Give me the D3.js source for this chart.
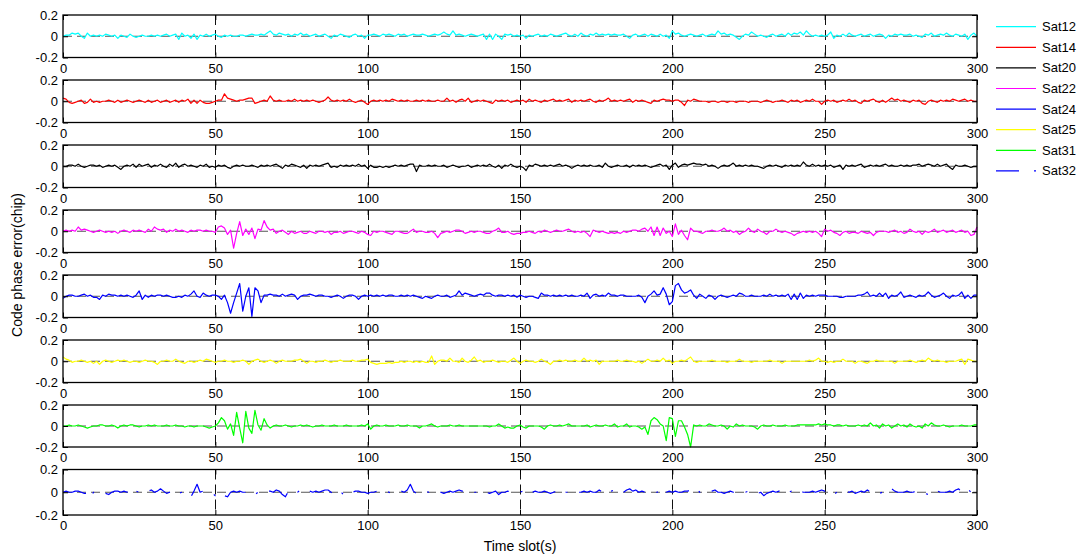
<!DOCTYPE html>
<html>
<head>
<meta charset="utf-8">
<script src="https://cdn.jsdelivr.net/npm/d3@7/dist/d3.min.js"></script>
<style>
  body { margin: 0; background: #fff; }
  svg { display: block; font-family: "Liberation Sans", Arial, Helvetica, sans-serif; }
</style>
</head>
<body>
<svg id="chart" width="1079" height="556"></svg>
<script>
// Code phase tracking error per satellite, one sample per time slot (0..300 s), in chips
const satNames = ["Sat12", "Sat14", "Sat20", "Sat22", "Sat24", "Sat25", "Sat31", "Sat32"];
const satColors = ["#00ffff", "#ff0000", "#000000", "#ff00ff", "#0000ff", "#ffff00", "#00ff00", "#0000ff"];

const sat12 = [
  0.00, 0.01, 0.01, 0.03, 0.02,  0.03, 0.00, -0.02, 0.03, 0.00,  0.01, 0.00, 0.01, 0.00, 0.02,  0.01, 0.00, 0.01, -0.02, 0.01,
  0.00, -0.01, 0.02, 0.00, -0.01,  0.00, 0.01, 0.00, 0.00, 0.01,  0.00, 0.01, 0.00, 0.01, 0.02,  0.00, 0.01, 0.02, -0.03, 0.03,
  0.00, 0.01, -0.02, 0.02, -0.03,  0.01, 0.00, 0.02, 0.00, 0.01,  0.02, 0.00, -0.01, 0.01, 0.00,  0.01, 0.00, 0.00, 0.01, 0.01,
  0.00, 0.01, 0.02, 0.01, 0.01,  0.02, 0.01, 0.03, 0.05, 0.02,  0.01, 0.03, 0.02, 0.01, 0.02,  0.00, 0.02, 0.01, 0.03, 0.01,
  0.02, 0.00, 0.01, 0.02, 0.00,  0.01, 0.02, 0.00, -0.02, 0.01,  0.00, 0.02, 0.01, 0.00, -0.01,  0.01, 0.02, 0.00, 0.01, -0.02,
  0.01, 0.01, 0.02, 0.01, 0.00,  0.02, 0.01, 0.02, 0.01, 0.00,  0.02, 0.01, 0.02, 0.00, 0.01,  0.02, 0.01, 0.01, 0.02, 0.01,
  0.00, 0.01, 0.02, 0.01, 0.02,  0.04, 0.02, 0.01, 0.05, 0.01,  0.02, 0.01, 0.00, 0.01, 0.02,  0.01, 0.00, 0.01, 0.02, -0.03,
  0.02, -0.03, 0.02, 0.00, -0.03,  0.02, 0.01, 0.02, 0.00, 0.01,  0.00, 0.01, -0.02, 0.01, 0.00,  0.01, 0.02, 0.00, 0.01, 0.00,
  0.02, 0.01, 0.00, 0.01, 0.02,  0.03, 0.01, 0.00, 0.02, 0.00,  0.03, 0.01, 0.00, 0.02, 0.01,  0.03, 0.01, 0.02, 0.01, 0.02,
  0.01, 0.02, 0.01, 0.01, 0.02,  0.00, -0.02, 0.01, 0.02, 0.00,  0.01, 0.02, 0.00, 0.02, 0.01,  0.00, 0.02, 0.00, 0.01, -0.02,
  0.05, 0.02, 0.03, 0.01, 0.00,  0.01, 0.02, 0.01, 0.00, 0.01,  0.02, 0.00, 0.01, 0.02, 0.01,  0.05, 0.02, 0.03, 0.01, 0.02,
  0.01, -0.01, -0.03, 0.00, 0.02,  0.01, 0.04, 0.02, 0.00, 0.01,  0.00, -0.01, 0.01, 0.02, 0.00,  0.01, 0.02, 0.00, 0.03, 0.01,
  0.03, 0.02, 0.04, 0.01, 0.05,  0.02, 0.00, 0.01, 0.00, 0.01,  0.00, 0.01, 0.04, -0.02, 0.01,  0.00, 0.02, 0.00, 0.03, 0.01,
  0.00, 0.01, 0.02, 0.00, 0.01,  0.02, 0.00, 0.01, 0.02, 0.01,  -0.02, 0.01, 0.00, 0.02, 0.01,  0.02, 0.01, 0.01, 0.02, 0.00,
  0.01, 0.00, -0.01, 0.02, 0.01,  0.03, 0.00, 0.01, 0.02, 0.01,  0.03, 0.01, 0.00, 0.02, 0.01,  0.00, 0.02, -0.03, 0.01, 0.03,
  0.00
];

const sat14 = [
  0.03, 0.02, -0.01, -0.02, -0.01,  0.00, 0.01, -0.02, -0.01, 0.02,  -0.01, 0.00, -0.01, 0.00, 0.00,  0.01, 0.00, -0.01, 0.01, -0.01,
  0.00, 0.01, 0.00, -0.01, 0.00,  0.01, 0.00, -0.01, 0.01, -0.01,  0.00, 0.01, -0.01, 0.00, 0.01,  -0.01, 0.00, 0.01, -0.01, 0.01,
  0.00, 0.02, -0.02, 0.01, -0.02,  0.01, -0.01, -0.02, -0.02, -0.01,  0.00, 0.01, 0.01, 0.07, 0.03,  0.02, 0.01, 0.00, 0.01, 0.01,
  0.02, 0.03, 0.03, -0.02, -0.01,  0.00, 0.01, 0.00, 0.05, 0.01,  0.00, 0.01, 0.00, 0.00, 0.01,  0.00, 0.02, 0.00, 0.01, 0.00,
  0.01, 0.00, 0.01, 0.00, -0.01,  0.00, 0.01, 0.04, 0.01, 0.00,  0.01, 0.00, 0.01, 0.00, 0.02,  0.00, -0.01, 0.00, 0.01, -0.01,
  -0.03, 0.00, 0.01, 0.00, 0.01,  0.00, 0.01, 0.00, 0.02, 0.01,  0.00, 0.01, 0.00, 0.01, 0.00,  0.00, 0.01, 0.00, 0.01, 0.00,
  0.01, 0.00, 0.00, 0.01, 0.00,  0.00, 0.03, 0.00, 0.01, -0.01,  0.01, 0.02, 0.00, 0.03, -0.01,  0.00, 0.01, 0.00, 0.01, 0.00,
  -0.01, -0.02, 0.01, 0.00, 0.01,  0.00, 0.01, -0.01, 0.00, 0.01,  0.00, 0.01, -0.01, 0.02, 0.00,  0.01, 0.00, -0.01, 0.01, 0.00,
  0.01, 0.02, 0.00, 0.01, 0.00,  0.01, 0.02, -0.01, 0.01, 0.00,  0.01, 0.00, 0.01, 0.02, 0.00,  -0.01, 0.01, 0.00, 0.01, 0.03,
  0.00, 0.01, 0.00, 0.01, 0.00,  0.01, 0.02, -0.01, 0.01, 0.00,  0.01, 0.00, -0.01, -0.02, 0.01,  0.00, 0.01, 0.02, 0.01, 0.01,
  0.00, 0.01, 0.01, -0.01, -0.04,  0.01, 0.00, 0.02, 0.01, 0.00,  0.00, 0.00, -0.01, 0.00, 0.00,  -0.01, 0.00, 0.00, -0.01, 0.00,
  0.00, -0.01, 0.00, 0.00, 0.00,  -0.01, 0.00, 0.00, 0.00, -0.01,  0.00, 0.01, 0.00, -0.01, 0.00,  0.00, 0.01, 0.00, -0.01, 0.01,
  0.00, 0.01, -0.01, 0.00, 0.01,  0.00, 0.02, 0.00, 0.00, -0.03,  0.00, 0.01, 0.00, 0.01, -0.01,  0.00, 0.01, 0.00, 0.02, 0.00,
  0.01, -0.01, -0.02, 0.01, 0.00,  0.01, 0.02, 0.00, -0.01, 0.01,  -0.01, 0.01, 0.03, 0.01, 0.02,  0.00, 0.01, 0.00, -0.01, 0.01,
  0.00, 0.01, -0.02, -0.03, 0.00,  0.01, 0.00, -0.01, 0.01, 0.00,  0.01, 0.00, 0.02, 0.01, 0.00,  0.01, 0.02, 0.00, 0.01, 0.00,
  0.00
];

const sat20 = [
  0.00, 0.00, 0.01, 0.01, 0.00,  0.02, 0.00, -0.01, 0.00, 0.01,  0.01, 0.00, 0.01, -0.01, 0.00,  0.01, 0.00, 0.01, -0.01, -0.03,
  0.00, 0.01, 0.00, 0.02, -0.01,  0.02, 0.00, 0.01, 0.02, -0.01,  0.01, 0.00, 0.02, 0.00, -0.01,  0.02, 0.00, 0.03, -0.01, 0.01,
  0.02, 0.00, 0.01, 0.00, -0.01,  0.01, 0.00, 0.02, -0.01, 0.00,  -0.01, 0.01, 0.00, 0.01, -0.01,  -0.02, 0.00, 0.01, 0.00, 0.01,
  0.00, 0.00, 0.01, 0.00, -0.01,  0.01, 0.00, 0.01, 0.00, 0.01,  0.02, 0.00, -0.02, 0.01, 0.00,  0.02, 0.01, 0.00, -0.01, 0.01,
  -0.02, 0.01, 0.00, 0.01, 0.00,  0.01, 0.02, 0.03, -0.01, 0.00,  -0.01, 0.01, 0.00, 0.01, 0.00,  0.01, 0.00, 0.02, 0.00, 0.01,
  -0.02, 0.01, -0.01, -0.01, 0.00,  -0.01, 0.00, -0.01, 0.00, 0.01,  0.00, 0.01, 0.00, 0.01, 0.02,  0.02, -0.05, 0.01, 0.00, 0.00,
  0.01, 0.00, 0.01, 0.00, 0.00,  0.01, -0.01, 0.00, 0.01, 0.00,  -0.01, 0.00, 0.00, 0.01, -0.01,  0.00, 0.01, 0.00, 0.01, 0.00,
  0.02, 0.00, -0.01, 0.01, -0.02,  0.01, 0.00, 0.02, 0.00, -0.01,  0.00, -0.01, -0.04, 0.01, 0.00,  0.02, 0.01, 0.00, 0.01, 0.00,
  0.01, 0.00, 0.01, 0.02, 0.00,  0.01, 0.00, -0.02, 0.00, 0.01,  0.00, 0.01, 0.00, 0.01, 0.00,  0.00, 0.01, -0.01, 0.03, 0.00,
  -0.01, 0.00, 0.01, 0.00, 0.00,  0.01, -0.01, 0.01, 0.00, 0.01,  0.00, 0.01, 0.00, -0.01, 0.00,  0.01, 0.02, 0.00, 0.01, -0.03,
  0.01, 0.03, -0.01, 0.01, 0.02,  0.01, 0.02, 0.03, 0.02, 0.02,  0.01, 0.02, 0.00, 0.01, 0.00,  -0.02, 0.00, 0.01, 0.00, 0.01,
  0.03, 0.00, 0.01, 0.00, 0.01,  0.00, 0.01, 0.00, 0.00, -0.01,  -0.02, 0.00, 0.01, 0.00, 0.01,  0.00, -0.01, 0.01, 0.00, 0.01,
  0.00, 0.01, 0.00, 0.04, 0.01,  0.00, 0.02, 0.00, 0.01, 0.00,  0.01, 0.00, 0.01, -0.01, 0.00,  0.01, -0.03, 0.01, 0.00, 0.01,
  0.00, 0.01, 0.02, -0.01, 0.00,  0.01, 0.00, 0.01, 0.00, 0.01,  0.02, 0.00, 0.01, 0.00, 0.00,  0.01, 0.00, 0.01, 0.00, 0.01,
  0.01, 0.02, 0.00, 0.01, 0.02,  0.01, 0.00, 0.02, 0.00, 0.01,  0.02, -0.01, -0.03, 0.01, 0.00,  0.00, 0.01, 0.00, -0.01, 0.00,
  0.00
];

const sat22 = [
  0.00, 0.01, 0.00, 0.01, 0.00,  0.04, 0.01, 0.02, 0.01, 0.00,  -0.01, 0.00, 0.01, 0.00, -0.01,  0.00, -0.01, 0.00, -0.02, 0.00,
  0.01, 0.00, -0.01, 0.01, 0.00,  0.01, 0.00, -0.01, 0.02, 0.00,  0.04, 0.02, 0.01, 0.02, -0.01,  0.01, 0.00, 0.02, 0.00, 0.01,
  0.00, -0.01, 0.01, 0.00, 0.01,  0.01, 0.00, 0.01, 0.00, 0.00,  -0.01, 0.04, 0.05, 0.03, -0.03,  0.01, -0.16, -0.02, 0.09, -0.04,
  0.02, -0.03, 0.03, -0.07, 0.02,  0.01, 0.10, 0.04, 0.01, 0.02,  -0.02, 0.00, 0.01, -0.01, -0.03,  0.00, -0.02, -0.01, 0.00, -0.02,
  -0.02, 0.00, -0.01, -0.02, 0.00,  0.00, -0.01, 0.00, -0.03, -0.01,  -0.01, 0.00, -0.02, -0.01, 0.00,  0.00, -0.01, -0.02, 0.00, -0.01,
  -0.03, -0.04, 0.00, -0.01, 0.00,  0.00, -0.01, -0.02, -0.03, 0.00,  0.00, -0.01, -0.02, -0.02, 0.00,  0.02, -0.01, 0.00, 0.00, -0.01,
  -0.01, 0.00, -0.02, -0.06, -0.02,  -0.01, 0.00, -0.01, 0.00, 0.01,  0.01, 0.00, -0.02, -0.01, 0.00,  -0.01, 0.00, 0.00, -0.01, -0.02,
  -0.02, 0.00, 0.01, 0.03, -0.01,  -0.01, 0.00, -0.02, -0.03, -0.02,  -0.02, -0.01, -0.01, 0.00, -0.01,  -0.02, 0.00, -0.01, 0.01, 0.00,
  -0.01, 0.00, 0.01, 0.00, 0.00,  0.01, 0.02, 0.00, -0.01, 0.00,  -0.01, 0.00, -0.02, -0.05, 0.01,  0.00, -0.01, 0.00, -0.01, -0.02,
  -0.01, -0.02, -0.01, -0.02, 0.00,  -0.01, 0.00, 0.01, 0.01, 0.00,  0.02, 0.03, 0.00, 0.04, -0.04,  0.04, -0.04, 0.03, -0.02, 0.00,
  -0.05, 0.07, -0.03, 0.01, -0.04,  -0.08, 0.03, 0.00, 0.00, -0.01,  -0.02, 0.00, 0.00, 0.01, 0.00,  0.00, 0.01, 0.03, 0.00, 0.01,
  -0.01, 0.00, -0.03, -0.01, 0.00,  0.03, 0.00, -0.01, 0.02, 0.00,  -0.01, -0.03, 0.00, 0.00, 0.02,  0.00, -0.01, 0.00, -0.01, -0.02,
  -0.04, -0.02, -0.01, 0.00, -0.01,  0.00, -0.01, 0.00, -0.02, -0.05,  0.02, 0.00, 0.01, -0.01, -0.02,  -0.04, -0.01, 0.00, -0.02, -0.01,
  -0.01, -0.02, 0.00, -0.01, -0.02,  -0.01, -0.04, -0.01, 0.00, 0.00,  0.00, -0.01, 0.00, 0.01, -0.01,  0.00, -0.02, -0.01, 0.02, 0.00,
  -0.01, 0.00, -0.03, 0.00, -0.01,  0.00, 0.02, -0.01, 0.00, 0.01,  -0.01, 0.00, 0.01, -0.01, 0.00,  0.01, -0.01, 0.00, -0.04, -0.03,
  0.04
];

const sat24 = [
  -0.02, 0.00, 0.01, 0.01, 0.00,  0.00, 0.01, 0.02, 0.00, 0.01,  -0.01, -0.01, -0.03, 0.01, 0.00,  0.02, 0.01, 0.01, 0.00, 0.01,
  0.00, 0.01, 0.00, -0.01, 0.01,  0.05, -0.03, 0.01, -0.01, 0.01,  0.00, 0.01, 0.01, 0.00, 0.01,  0.00, -0.01, -0.01, 0.00, -0.01,
  0.01, 0.00, 0.02, 0.05, 0.00,  -0.01, 0.03, 0.01, 0.00, 0.01,  0.01, 0.00, -0.03, 0.01, -0.06,  -0.16, -0.06, 0.03, 0.12, -0.14,
  0.00, 0.08, -0.19, 0.08, 0.05,  -0.06, 0.01, 0.01, 0.02, 0.01,  0.01, 0.00, 0.02, 0.00, 0.01,  0.02, 0.01, -0.03, 0.00, 0.01,
  0.01, 0.02, 0.01, 0.00, 0.01,  0.01, 0.00, 0.00, -0.01, 0.00,  0.01, 0.00, -0.02, 0.00, 0.01,  0.01, 0.00, -0.03, 0.00, 0.01,
  0.00, 0.01, 0.00, 0.01, 0.00,  0.01, 0.00, 0.01, 0.01, 0.00,  0.00, 0.01, 0.00, 0.01, 0.00,  0.01, 0.00, -0.01, -0.02, 0.00,
  -0.01, -0.02, 0.00, 0.01, 0.00,  0.00, 0.01, -0.01, 0.00, 0.01,  0.05, 0.01, 0.03, 0.02, 0.01,  0.00, 0.01, 0.02, 0.01, 0.03,
  0.03, 0.01, 0.00, 0.01, 0.01,  0.00, 0.01, 0.00, 0.01, -0.01,  0.01, 0.00, -0.01, 0.00, 0.00,  -0.01, -0.02, 0.03, 0.01, 0.01,
  0.00, 0.01, 0.00, 0.01, 0.00,  0.01, 0.00, 0.01, 0.00, 0.00,  0.01, 0.00, 0.03, -0.02, 0.01,  0.02, 0.00, 0.01, 0.00, 0.03,
  0.01, 0.01, 0.00, 0.01, 0.01,  0.00, 0.00, 0.00, 0.00, 0.01,  -0.01, -0.06, 0.00, 0.02, 0.05,  0.01, 0.02, 0.08, 0.02, -0.08,
  -0.05, 0.10, 0.12, 0.06, 0.03,  0.04, 0.06, 0.01, -0.02, 0.02,  0.00, -0.02, 0.01, 0.00, -0.03,  0.00, 0.01, 0.00, -0.01, 0.00,
  0.01, 0.00, 0.03, 0.02, 0.00,  0.00, 0.01, 0.00, 0.00, 0.00,  0.01, 0.00, 0.02, 0.00, 0.01,  0.00, 0.01, 0.00, 0.02, -0.03,
  0.02, -0.03, 0.03, -0.02, 0.01,  0.00, 0.01, 0.00, 0.01, 0.01,  0.01, 0.00, 0.00, 0.00, 0.00,  -0.01, -0.01, 0.00, 0.00, 0.00,
  0.00, 0.01, 0.01, 0.02, 0.04,  0.00, 0.01, 0.00, 0.03, 0.00,  0.03, -0.02, 0.01, 0.00, 0.01,  0.04, -0.01, 0.00, 0.01, 0.00,
  -0.01, 0.01, 0.00, 0.01, 0.04,  0.01, -0.01, 0.00, 0.01, 0.03,  0.00, -0.02, 0.01, 0.00, 0.01,  0.04, -0.02, 0.01, -0.02, 0.01,
  0.01
];

const sat25 = [
  0.04, 0.02, 0.01, -0.01, 0.00,  0.00, 0.01, 0.00, -0.01, 0.00,  -0.02, 0.00, -0.03, 0.00, 0.01,  0.00, -0.01, 0.00, 0.01, 0.00,
  0.01, 0.00, -0.01, 0.00, 0.00,  -0.01, 0.00, 0.01, 0.00, 0.00,  -0.01, -0.03, 0.00, 0.00, 0.01,  0.00, 0.00, 0.02, 0.00, -0.01,
  -0.02, 0.00, 0.00, -0.01, 0.00,  0.01, 0.00, 0.02, 0.01, 0.00,  -0.01, 0.00, 0.00, 0.01, 0.00,  0.00, -0.01, 0.00, 0.00, 0.01,
  0.00, -0.03, 0.00, 0.01, 0.02,  0.00, -0.01, 0.00, 0.01, 0.00,  -0.02, 0.00, 0.01, 0.00, 0.00,  0.00, 0.01, 0.01, 0.02, 0.00,
  -0.02, 0.00, 0.00, -0.01, 0.00,  0.00, 0.01, 0.00, -0.01, 0.00,  0.00, 0.01, 0.00, 0.00, 0.00,  0.01, 0.00, 0.00, 0.01, 0.01,
  0.02, -0.01, -0.02, -0.03, -0.02,  -0.02, -0.02, -0.01, -0.02, -0.01,  -0.01, 0.00, -0.01, 0.00, 0.00,  -0.01, 0.00, -0.01, 0.00, -0.01,
  -0.01, 0.05, -0.03, 0.00, 0.01,  0.01, 0.00, 0.03, 0.00, 0.00,  -0.01, 0.03, 0.00, -0.01, 0.01,  0.04, 0.00, 0.01, -0.01, 0.00,
  0.00, 0.01, 0.00, -0.01, 0.00,  0.00, -0.01, 0.01, 0.03, 0.00,  -0.02, 0.00, 0.01, 0.00, 0.00,  -0.01, 0.00, 0.02, 0.00, -0.01,
  -0.03, 0.00, 0.00, 0.01, 0.00,  0.01, 0.00, 0.00, 0.01, 0.00,  0.00, 0.03, 0.00, 0.01, 0.00,  0.01, -0.03, 0.00, 0.00, 0.00,
  0.00, 0.00, 0.01, 0.00, 0.00,  0.01, 0.00, 0.00, -0.01, 0.00,  -0.02, 0.00, 0.02, 0.00, 0.00,  0.01, 0.00, 0.03, 0.00, 0.01,
  -0.02, 0.00, 0.00, 0.01, 0.00,  0.02, 0.04, 0.00, -0.01, 0.00,  0.00, 0.00, 0.00, 0.01, 0.00,  0.00, 0.00, 0.00, -0.01, 0.00,
  0.00, 0.00, 0.02, 0.00, 0.00,  0.00, -0.01, 0.00, 0.00, 0.00,  0.00, 0.00, 0.01, 0.00, 0.00,  0.00, -0.02, 0.00, 0.00, 0.00,
  0.00, 0.00, 0.00, 0.00, 0.00,  0.01, 0.00, 0.01, 0.03, 0.00,  0.00, -0.01, 0.00, -0.01, 0.00,  0.00, 0.02, 0.00, 0.00, 0.00,
  -0.02, 0.00, 0.00, -0.01, -0.02,  0.00, 0.00, 0.01, 0.00, 0.00,  0.00, 0.00, 0.00, -0.02, 0.00,  0.00, 0.00, 0.00, 0.01, 0.00,
  -0.01, 0.00, 0.01, 0.00, 0.03,  0.01, 0.00, 0.01, 0.00, 0.00,  -0.01, 0.00, 0.00, 0.00, 0.01,  0.02, -0.03, 0.02, 0.01, 0.00,
  0.00
];

const sat31 = [
  0.00, 0.00, 0.01, 0.00, 0.00,  0.01, 0.00, -0.01, -0.02, -0.01,  0.00, 0.00, 0.01, 0.01, 0.00,  0.00, 0.01, 0.00, -0.02, 0.00,
  0.01, 0.00, 0.01, 0.01, 0.00,  -0.01, 0.00, 0.00, 0.01, 0.00,  0.01, 0.00, 0.00, 0.00, 0.01,  0.00, 0.00, 0.01, 0.00, 0.00,
  -0.01, 0.00, 0.00, -0.01, 0.00,  0.00, 0.00, -0.01, -0.02, -0.01,  0.00, 0.03, 0.08, 0.05, -0.03,  0.02, -0.09, 0.13, -0.02, -0.16,
  0.14, -0.02, -0.07, 0.15, 0.01,  -0.04, 0.07, 0.01, -0.02, 0.00,  0.01, 0.00, 0.00, 0.01, 0.00,  -0.01, 0.00, 0.00, 0.01, 0.00,
  0.01, 0.00, -0.01, 0.00, 0.00,  0.01, 0.00, 0.00, 0.00, 0.01,  0.00, 0.00, 0.00, 0.01, 0.00,  0.00, 0.00, 0.00, 0.01, 0.00,
  0.02, -0.03, 0.00, 0.01, 0.00,  0.00, 0.01, 0.00, 0.00, 0.00,  0.01, 0.00, 0.00, 0.01, 0.00,  0.00, 0.00, -0.02, 0.00, 0.00,
  0.01, 0.02, 0.00, -0.01, 0.00,  0.00, 0.00, 0.01, 0.00, 0.00,  0.01, 0.00, 0.00, 0.00, 0.00,  0.00, 0.00, 0.00, 0.00, 0.00,
  -0.01, 0.00, 0.00, 0.02, 0.00,  -0.02, -0.01, -0.02, -0.02, 0.00,  0.01, -0.01, -0.02, 0.00, 0.00,  0.00, 0.00, -0.01, -0.03, 0.00,
  0.01, 0.00, 0.00, 0.01, 0.00,  0.01, 0.02, 0.00, 0.00, 0.00,  0.00, 0.00, 0.01, -0.01, 0.00,  0.01, 0.00, 0.00, 0.01, 0.00,
  0.00, 0.02, -0.01, 0.00, 0.00,  0.02, -0.01, 0.00, 0.00, -0.01,  -0.03, -0.01, -0.08, 0.05, 0.08,  0.06, 0.02, 0.00, -0.14, 0.08,
  0.07, -0.10, 0.05, 0.05, -0.01,  -0.08, -0.20, 0.01, 0.00, 0.01,  0.00, 0.00, 0.02, 0.01, 0.00,  0.00, 0.01, 0.00, -0.03, 0.00,
  -0.01, 0.02, 0.00, 0.01, 0.00,  0.00, 0.00, -0.01, -0.03, 0.00,  0.01, 0.00, 0.00, 0.01, 0.00,  0.00, 0.00, 0.01, 0.00, 0.00,
  0.00, 0.01, 0.01, 0.01, 0.01,  0.01, 0.01, 0.01, 0.02, 0.01,  0.02, 0.01, 0.01, 0.00, 0.01,  0.01, 0.00, 0.01, 0.00, 0.00,
  0.00, 0.01, 0.00, 0.01, 0.00,  0.03, 0.00, 0.01, -0.02, 0.02,  0.00, 0.01, -0.02, 0.00, 0.02,  0.00, 0.01, -0.01, 0.02, 0.00,
  -0.01, 0.00, -0.02, 0.02, 0.00,  0.03, 0.01, 0.00, 0.00, 0.01,  0.00, -0.01, 0.00, 0.00, 0.00,  0.01, 0.00, 0.00, 0.00, 0.01,
  0.01
];

const sat32 = [
  0.00, 0.01, 0.00, 0.00, 0.01,  0.01, 0.00, -0.01, -0.01, -0.05,  0.00, 0.00, 0.01, 0.00, -0.01,  -0.02, 0.00, 0.01, 0.01, 0.00,
  0.01, 0.00, 0.03, 0.00, 0.01,  0.00, 0.01, 0.00, 0.01, 0.02,  0.00, 0.01, 0.03, 0.01, -0.01,  0.00, 0.01, 0.02, -0.01, 0.00,
  0.00, -0.01, -0.04, 0.01, 0.07,  0.00, 0.01, 0.00, 0.00, -0.01,  -0.03, 0.00, -0.01, -0.03, -0.04,  0.00, 0.01, 0.00, 0.01, 0.00,
  0.00, 0.01, 0.00, -0.02, 0.00,  0.01, 0.00, 0.01, 0.01, 0.00,  0.02, 0.01, -0.02, -0.04, 0.01,  0.00, 0.01, 0.00, 0.02, 0.00,
  0.00, 0.01, 0.00, 0.01, 0.00,  0.01, 0.02, 0.02, 0.00, -0.02,  0.00, 0.01, -0.02, 0.00, 0.01,  0.00, 0.01, 0.01, 0.00, 0.00,
  -0.01, 0.00, 0.00, 0.01, 0.00,  0.00, 0.01, 0.00, -0.01, 0.00,  0.00, 0.01, 0.00, 0.02, 0.07,  0.01, -0.01, 0.00, 0.00, 0.01,
  0.00, 0.01, 0.00, -0.01, 0.00,  -0.01, 0.00, 0.01, 0.00, 0.01,  0.02, 0.01, 0.01, 0.00, 0.01,  0.00, 0.00, 0.01, 0.00, 0.00,
  -0.01, 0.00, 0.01, -0.02, 0.00,  0.00, 0.01, 0.00, 0.00, 0.00,  0.00, 0.01, 0.00, -0.02, 0.00,  0.01, 0.00, 0.00, 0.01, 0.00,
  -0.01, 0.00, 0.01, 0.00, -0.02,  0.00, 0.00, 0.01, 0.00, 0.00,  0.00, 0.01, 0.00, 0.01, 0.00,  0.00, 0.02, 0.00, -0.02, 0.00,
  0.01, 0.02, 0.00, 0.01, 0.00,  0.02, 0.03, 0.01, 0.02, 0.00,  0.01, 0.00, 0.00, 0.01, 0.00,  0.00, 0.01, -0.03, 0.00, 0.01,
  0.00, 0.01, 0.00, 0.00, 0.01,  0.01, 0.02, 0.01, 0.03, 0.00,  0.01, 0.00, 0.00, 0.01, 0.02,  0.00, 0.00, -0.01, 0.00, 0.01,
  0.00, 0.00, 0.00, 0.01, 0.00,  0.01, 0.00, 0.00, -0.01, 0.00,  -0.03, -0.01, 0.00, 0.01, 0.00,  0.01, 0.02, 0.00, -0.01, 0.01,
  0.02, 0.00, 0.01, 0.00, 0.00,  0.00, 0.01, 0.00, 0.01, 0.02,  0.01, -0.01, 0.00, -0.02, 0.00,  0.01, 0.00, 0.01, 0.00, 0.01,
  -0.01, 0.00, 0.01, 0.00, 0.02,  0.00, 0.01, 0.00, -0.01, 0.00,  0.01, 0.00, 0.03, 0.01, 0.00,  0.00, 0.00, 0.01, 0.00, 0.00,
  0.01, 0.00, 0.00, -0.01, -0.02,  -0.03, 0.00, 0.01, 0.00, 0.00,  0.00, 0.01, 0.00, 0.02, 0.03,  0.00, 0.01, 0.03, 0.00, 0.00,
  0.00
];

const seriesValues = [sat12, sat14, sat20, sat22, sat24, sat25, sat31, sat32];
const xTickValues = [0, 50, 100, 150, 200, 250, 300];
const xGridValues = [50, 100, 150, 200, 250];
const yTickValues = [-0.2, 0, 0.2];
const yLabel = "Code phase error(chip)";
const xLabel = "Time slot(s)";

// ---- layout ----
const svg = d3.select("#chart");
const plotLeft = 63, plotRight = 977;
const panelTops = [15, 80, 145, 210, 275, 340, 405, 469.5];
const panelHeights = [42.5, 42.5, 42.5, 42.5, 42.5, 42.5, 42, 45.5];
const dashDot = "24,12,2,12";
const font = "13px";

const x = d3.scaleLinear().domain([0, 300]).range([plotLeft, plotRight]);
const line = d3.line();

seriesValues.forEach((vals, k) => {
  const top = panelTops[k], bottom = top + panelHeights[k];
  const y = d3.scaleLinear().domain([-0.2, 0.2]).range([bottom, top]);
  const g = svg.append("g").attr("class", "panel");

  // dashed grid: vertical at each 50 s, horizontal at zero
  g.selectAll("line.vgrid").data(xGridValues).join("line")
    .attr("class", "vgrid")
    .attr("x1", d => Math.round(x(d)) + 0.5).attr("x2", d => Math.round(x(d)) + 0.5)
    .attr("y1", top).attr("y2", bottom)
    .attr("stroke", "#111").attr("stroke-width", 1)
    .attr("stroke-dasharray", "10,5");
  g.append("line")
    .attr("x1", plotLeft).attr("x2", plotRight)
    .attr("y1", y(0)).attr("y2", y(0))
    .attr("stroke", "#555").attr("stroke-width", 1)
    .attr("stroke-dasharray", "9,5");

  // error trace
  line.x((d, i) => x(i)).y(d => y(d));
  g.append("path")
    .datum(vals)
    .attr("d", line)
    .attr("fill", "none")
    .attr("stroke", satColors[k])
    .attr("stroke-width", 1.2)
    .attr("stroke-linejoin", "round")
    .attr("stroke-dasharray", k === 7 ? dashDot : null);

  // axes with inward ticks
  const axB = d3.axisBottom(x).tickValues(xTickValues).tickSizeInner(-5).tickSizeOuter(0).tickPadding(6);
  const axT = d3.axisTop(x).tickValues(xTickValues).tickSizeInner(-5).tickSizeOuter(0).tickFormat("");
  const axL = d3.axisLeft(y).tickValues(yTickValues).tickSizeInner(-5).tickSizeOuter(0).tickPadding(5)
    .tickFormat(d => d === 0 ? "0" : String(d));
  const axR = d3.axisRight(y).tickValues(yTickValues).tickSizeInner(-5).tickSizeOuter(0).tickFormat("");

  const styleAxis = sel => {
    sel.select(".domain").remove();
    sel.selectAll(".tick line").attr("stroke", "#000");
    sel.selectAll(".tick text").attr("fill", "#000").style("font-size", font)
      .style("font-family", "'Liberation Sans', Arial, sans-serif");
  };
  g.append("g").attr("transform", `translate(0,${bottom})`).call(axB).call(styleAxis);
  g.append("g").attr("transform", `translate(0,${top})`).call(axT).call(styleAxis);
  g.append("g").attr("transform", `translate(${plotLeft},0)`).call(axL).call(styleAxis);
  g.append("g").attr("transform", `translate(${plotRight},0)`).call(axR).call(styleAxis);

  // axes box
  g.append("rect")
    .attr("x", plotLeft).attr("y", top)
    .attr("width", plotRight - plotLeft).attr("height", bottom - top)
    .attr("fill", "none").attr("stroke", "#000").attr("stroke-width", 1.3);
});

// axis titles
svg.append("text")
  .attr("x", (plotLeft + plotRight) / 2).attr("y", 551)
  .attr("text-anchor", "middle").style("font-size", "14px").attr("fill", "#000")
  .text(xLabel);
svg.append("text")
  .attr("transform", `translate(22,${(panelTops[0] + panelTops[7] + panelHeights[7]) / 2}) rotate(-90)`)
  .attr("text-anchor", "middle").style("font-size", "14px").attr("fill", "#000")
  .text(yLabel);

// legend
const legend = svg.append("g").attr("class", "legend");
const legendRows = legend.selectAll("g").data(satNames).join("g")
  .attr("transform", (d, i) => `translate(996,${26.7 + i * 20.6})`);
legendRows.append("line")
  .attr("x1", 0).attr("x2", 40).attr("y1", 0).attr("y2", 0)
  .attr("stroke", (d, i) => satColors[i]).attr("stroke-width", 1.2)
  .attr("stroke-dasharray", (d, i) => i === 7 ? "23,15,2,15" : null);
legendRows.append("text")
  .attr("x", 46).attr("y", 4.5)
  .style("font-size", font).attr("fill", "#000")
  .text(d => d);
</script>
</body>
</html>
